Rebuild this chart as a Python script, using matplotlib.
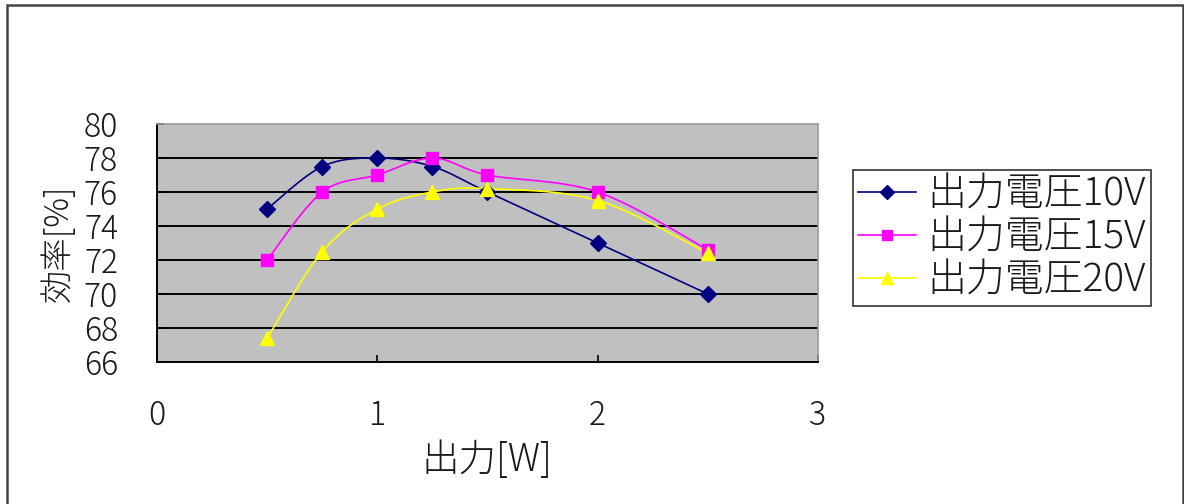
import numpy as np
import matplotlib
matplotlib.use("Agg")
import matplotlib.pyplot as plt
from matplotlib.patches import Rectangle
from matplotlib.lines import Line2D

plt.rcParams['font.family'] = ['Noto Sans CJK JP', 'DejaVu Sans']

# 出力 [W]
power = [0.5, 0.75, 1.0, 1.25, 1.5, 2.0, 2.5]
# 効率 [%] for each output voltage
eff_10v = [75.0, 77.5, 78.0, 77.5, 76.0, 73.0, 70.0]
eff_15v = [72.0, 76.0, 77.0, 78.0, 77.0, 76.0, 72.6]
eff_20v = [67.4, 72.5, 75.0, 76.0, 76.2, 75.5, 72.4]
series_labels = ['出力電圧10V', '出力電圧15V', '出力電圧20V']
x_ticks = [0, 1, 2, 3]
y_ticks = [66, 68, 70, 72, 74, 76, 78, 80]

TXT = '#1a1a1a'

W, H = 1184, 504
fig = plt.figure(figsize=(W / 100, H / 100), dpi=100)
fig.patch.set_facecolor('white')

L, R, T, B = 157, 818, 124, 362
ax = fig.add_axes([L / W, (H - B) / H, (R - L) / W, (B - T) / H])
ax.set_facecolor('#C0C0C0')
ax.set_xlim(0, 3)
ax.set_ylim(66, 80)
ax.set_xticks(x_ticks)
ax.set_yticks(y_ticks)

for y in y_ticks[1:-1]:
    ax.axhline(y, color='black', lw=1.4, zorder=1)

for side in ('left', 'bottom'):
    ax.spines[side].set_color('black')
    ax.spines[side].set_linewidth(1.4)
for side in ('top', 'right'):
    ax.spines[side].set_color('#9a9a9a')
    ax.spines[side].set_linewidth(1.2)

ax.tick_params(axis='both', direction='in', length=5, width=1.2, color='black',
               labelsize=23, labelcolor=TXT)
ax.tick_params(axis='y', pad=28)
ax.tick_params(axis='x', pad=26)
for lab in ax.get_xticklabels() + ax.get_yticklabels():
    lab.set_fontweight('light')

ax.set_xlabel('出力[W]', fontsize=27, color=TXT, fontweight='light')
ax.xaxis.set_label_coords(0.499, -0.33)
ax.set_ylabel('効率[%]', fontsize=24, color=TXT, fontweight='light')
ax.yaxis.set_label_coords(-0.123, 0.5)


def smooth(xs, ys, n=24):
    """Catmull-Rom smoothing computed in display space."""
    pts = ax.transData.transform(np.column_stack([xs, ys]))
    out = []
    m = len(pts)
    for i in range(m - 1):
        p0 = pts[max(i - 1, 0)]
        p1 = pts[i]
        p2 = pts[i + 1]
        p3 = pts[min(i + 2, m - 1)]
        c1 = p1 + (p2 - p0) / 6.0
        c2 = p2 - (p3 - p1) / 6.0
        t = np.linspace(0, 1, n)[:, None]
        seg = ((1 - t) ** 3) * p1 + 3 * ((1 - t) ** 2) * t * c1 \
            + 3 * (1 - t) * t ** 2 * c2 + t ** 3 * p2
        out.append(seg if i == 0 else seg[1:])
    curve = np.vstack(out)
    return ax.transData.inverted().transform(curve)


styles = [
    (eff_10v, '#000080', 'D', 8),
    (eff_15v, '#FF00FF', 's', 9),
    (eff_20v, '#FFFF00', '^', 10),
]
handles = []
for (vals, col, mk, ms), lab in zip(styles, series_labels):
    c = smooth(power, vals)
    ax.plot(c[:, 0], c[:, 1], color=col, lw=1.2, zorder=3)
    ax.plot(power, vals, linestyle='none', marker=mk, ms=ms, color=col,
            markeredgecolor=col, zorder=4)
    handles.append(Line2D([0], [0], color=col, lw=1.2, marker=mk, ms=ms * 0.85,
                          markeredgecolor=col, label=lab))

leg = fig.legend(handles=handles, loc='upper left',
                 bbox_to_anchor=(853 / W, 1 - 170 / H),
                 prop={'size': 28, 'weight': 'light'},
                 frameon=True, fancybox=False, edgecolor='black',
                 handlelength=1.5, handletextpad=0.3, labelspacing=0.1,
                 borderpad=0.12, borderaxespad=0)
leg.get_frame().set_linewidth(1.2)
for t in leg.get_texts():
    t.set_color(TXT)

# outer chart border
fig.patches.append(Rectangle((7 / W, -0.05), (1183 - 7) / W, 1.05 - 5 / H,
                             transform=fig.transFigure, fill=False,
                             edgecolor='#444444', lw=1.8))

fig.savefig('out.png', dpi=100)
